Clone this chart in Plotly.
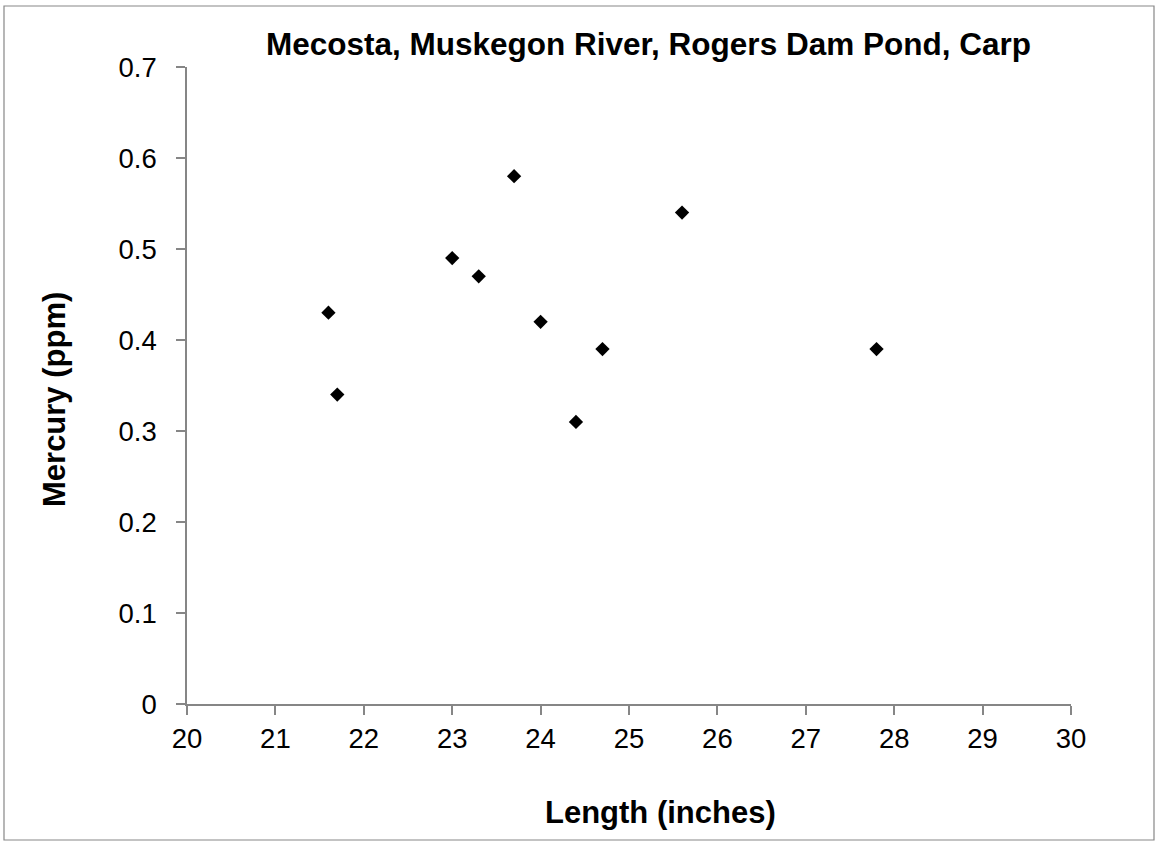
import plotly.graph_objects as go

# Data
length_in = [21.6, 21.7, 23.0, 23.3, 23.7, 24.0, 24.4, 24.7, 25.6, 27.8]
mercury_ppm = [0.43, 0.34, 0.49, 0.47, 0.58, 0.42, 0.31, 0.39, 0.54, 0.39]
x_ticks = [20, 21, 22, 23, 24, 25, 26, 27, 28, 29, 30]
y_ticks = [0, 0.1, 0.2, 0.3, 0.4, 0.5, 0.6, 0.7]
y_tick_text = ["0", "0.1", "0.2", "0.3", "0.4", "0.5", "0.6", "0.7"]

title_text = "Mecosta, Muskegon River, Rogers Dam Pond, Carp"
x_title = "Length (inches)"
y_title = "Mercury (ppm)"

W, H = 1156, 842
L, R, T, B = 187, 1071, 67, 704  # plot area pixel edges


def px_x(px):
    return (px - L) / (R - L)


def px_y(py):
    return (B - py) / (B - T)


FONT = "Liberation Sans, Arial, sans-serif"
AXIS_COLOR = "#868686"

fig = go.Figure()
fig.add_trace(go.Scatter(
    x=length_in, y=mercury_ppm, mode="markers",
    marker=dict(symbol="diamond", size=11, color="black", line=dict(width=0)),
    showlegend=False, hoverinfo="x+y",
))

fig.update_layout(
    width=W, height=H,
    margin=dict(l=L, r=W - R, t=T, b=H - B, pad=0),
    paper_bgcolor="white", plot_bgcolor="white",
    font=dict(family=FONT, color="black"),
    showlegend=False,
)

fig.update_xaxes(
    range=[20, 30], tickmode="array", tickvals=x_ticks,
    showgrid=False, zeroline=False,
    showline=True, linecolor=AXIS_COLOR, linewidth=1.5,
    ticks="outside", ticklen=9, tickwidth=1.5, tickcolor=AXIS_COLOR,
    tickfont=dict(family=FONT, size=27.5, color="black"),
    ticklabelstandoff=0,
)
fig.update_yaxes(
    range=[0, 0.7], tickmode="array", tickvals=y_ticks, ticktext=y_tick_text,
    showgrid=False, zeroline=False,
    showline=True, linecolor=AXIS_COLOR, linewidth=1.5,
    ticks="outside", ticklen=9, tickwidth=1.5, tickcolor=AXIS_COLOR,
    tickfont=dict(family=FONT, size=27.5, color="black"),
    ticklabelstandoff=14,
)

# Outer chart border
fig.add_shape(
    type="rect", xref="paper", yref="paper",
    x0=px_x(4), x1=px_x(1154), y0=px_y(840), y1=px_y(6),
    line=dict(color="#878787", width=1.2), fillcolor="rgba(0,0,0,0)", layer="below",
)

# Titles as annotations
fig.add_annotation(
    text="<b>" + title_text + "</b>", xref="paper", yref="paper",
    x=px_x(648), y=px_y(44), xanchor="center", yanchor="middle",
    showarrow=False, font=dict(family=FONT, size=31.5, color="black"),
)
fig.add_annotation(
    text="<b>" + x_title + "</b>", xref="paper", yref="paper",
    x=px_x(660), y=px_y(812), xanchor="center", yanchor="middle",
    showarrow=False, font=dict(family=FONT, size=31, color="black"),
)
fig.add_annotation(
    text="<b>" + y_title + "</b>", xref="paper", yref="paper",
    x=px_x(54), y=px_y(400), xanchor="center", yanchor="middle",
    textangle=-90,
    showarrow=False, font=dict(family=FONT, size=31, color="black"),
)

fig.write_html(
    "out.html",
    config={"displayModeBar": False},
    post_script="document.body.style.margin='0';document.body.style.overflow='hidden';",
)
